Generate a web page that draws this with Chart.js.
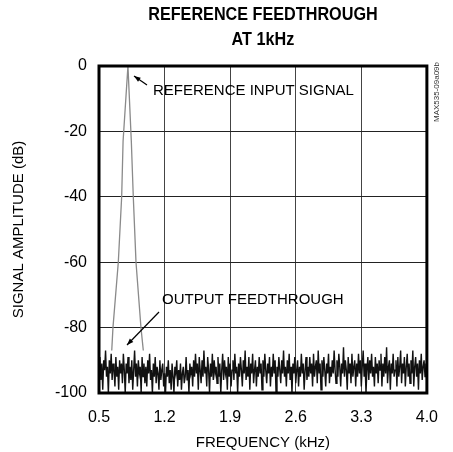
<!DOCTYPE html>
<html>
<head>
<meta charset="utf-8">
<script src="https://cdn.jsdelivr.net/npm/chart.js@4/dist/chart.umd.min.js"></script>
<style>
  html, body { margin: 0; padding: 0; background: #fff; }
  #wrap { width: 453px; height: 452px; }
</style>
</head>
<body>
<div id="wrap"><canvas id="chart" width="453" height="452"></canvas></div>
<script>
// x axis
const freqTicks = [0.5, 1.2, 1.9, 2.6, 3.3, 4.0];
const ampTicks = [0, -20, -40, -60, -80, -100];

// noise floor, sampled every 0.01 kHz from 0.5 kHz
const noiseStart = 0.5;
const noiseStep = 0.01;
const noiseAmp = [
  -94,-89,-96,-91,-99,-90,-93,-87,-95,-92,-100,-90,-94,-88,-96,-91,-93,-98,-89,-95,-92,-99,-90,-94,-91,
  -97,-88,-93,-100,-91,-94,-89,-97,-92,-96,-90,-99,-93,-87,-95,-91,-98,-90,-94,-92,-100,-89,-95,-91,-97,
  -92,-98,-90,-94,-88,-96,-93,-100,-91,-95,-89,-97,-92,-94,-99,-90,-96,-93,-91,-98,-94,-100,-92,-95,-90,
  -97,-93,-99,-91,-95,-100,-92,-94,-90,-98,-93,-96,-91,-99,-94,-92,-97,-95,-89,-96,-93,-100,-91,-94,-92,
  -98,-90,-95,-88,-94,-91,-99,-89,-93,-97,-90,-95,-87,-94,-92,-98,-89,-93,-100,-91,-95,-88,-96,-90,-94,
  -92,-97,-89,-95,-91,-100,-93,-88,-96,-90,-94,-92,-99,-89,-95,-91,-98,-93,-90,-96,-88,-94,-92,-100,-91,
  -95,-89,-93,-98,-90,-94,-87,-96,-92,-95,-89,-99,-91,-94,-88,-97,-93,-90,-98,-92,-95,-89,-94,-91,-99,
  -90,-95,-88,-93,-97,-91,-94,-89,-98,-92,-95,-88,-94,-90,-100,-92,-95,-89,-93,-97,-90,-94,-87,-95,-92,
  -98,-90,-94,-88,-96,-92,-100,-91,-94,-89,-97,-93,-90,-98,-92,-95,-88,-94,-91,-99,-93,-89,-96,-92,-95,
  -89,-94,-91,-98,-88,-95,-92,-90,-97,-87,-94,-91,-99,-90,-95,-89,-93,-98,-91,-94,-88,-97,-92,-95,-90,
  -94,-87,-93,-97,-90,-95,-88,-92,-98,-91,-94,-86,-95,-90,-93,-99,-89,-94,-91,-97,-88,-95,-92,-90,-98,
  -91,-95,-88,-94,-90,-98,-92,-87,-95,-91,-100,-93,-89,-96,-90,-94,-88,-95,-92,-98,-89,-94,-91,-97,-90,
  -93,-88,-98,-91,-95,-89,-94,-86,-97,-92,-90,-99,-91,-94,-88,-95,-93,-90,-98,-89,-95,-92,-87,-97,-91,
  -94,-89,-98,-92,-88,-95,-91,-97,-90,-94,-87,-98,-92,-89,-95,-91,-99,-90,-94,-88,-96,-92,-90,-95,-91,
  -93
];

// reference tone
const peakFreq = [0.636, 0.649, 0.706, 0.742, 0.757, 0.809, 0.845, 0.866, 0.895, 0.948, 0.973];
const peakAmp = [-87, -80, -60, -40, -23, 0, -23, -40, -60, -80, -87];

const noisePts = noiseAmp.map((v, i) => ({ x: noiseStart + i * noiseStep, y: v }));
const peakPts = peakFreq.map((f, i) => ({ x: f, y: peakAmp[i] }));

const FONT = "'Liberation Sans', Arial, sans-serif";

const extras = {
  id: 'extras',
  afterDraw(c) {
    const ctx = c.ctx;
    const a = c.chartArea;
    ctx.save();
    // frame
    ctx.strokeStyle = '#000';
    ctx.lineWidth = 3;
    ctx.strokeRect(a.left, a.top, a.right - a.left, a.bottom - a.top);

    // title, condensed
    ctx.fillStyle = '#000';
    ctx.textAlign = 'center';
    ctx.textBaseline = 'middle';
    ctx.font = "bold 18px 'Liberation Sans', sans-serif";
    const cx = (a.left + a.right) / 2;
    ctx.save();
    ctx.translate(cx, 0);
    ctx.scale(0.9, 1);
    ctx.fillText('REFERENCE FEEDTHROUGH', 0, 15);
    ctx.fillText('AT 1kHz', 0, 40);
    ctx.restore();

    // annotations
    ctx.font = '15px ' + FONT;
    ctx.textAlign = 'left';
    ctx.fillText('REFERENCE INPUT SIGNAL', 153, 91);
    ctx.fillText('OUTPUT FEEDTHROUGH', 162, 300);

    const arrow = (x1, y1, x2, y2) => {
      ctx.beginPath();
      ctx.lineWidth = 1.2;
      ctx.moveTo(x1, y1);
      ctx.lineTo(x2, y2);
      ctx.stroke();
      const ang = Math.atan2(y2 - y1, x2 - x1);
      ctx.beginPath();
      ctx.moveTo(x2, y2);
      ctx.lineTo(x2 - 7 * Math.cos(ang - 0.35), y2 - 7 * Math.sin(ang - 0.35));
      ctx.lineTo(x2 - 7 * Math.cos(ang + 0.35), y2 - 7 * Math.sin(ang + 0.35));
      ctx.closePath();
      ctx.fill();
    };
    arrow(147, 85, 134, 76);
    arrow(159, 312, 127, 345);

    // figure code
    ctx.save();
    ctx.translate(437, 92);
    ctx.rotate(-Math.PI / 2);
    ctx.textAlign = 'center';
    ctx.font = '8px ' + FONT;
    ctx.fillStyle = '#333';
    ctx.fillText('MAX535-09a09b', 0, 0);
    ctx.restore();
    ctx.restore();
  }
};

new Chart(document.getElementById('chart').getContext('2d'), {
  type: 'line',
  data: {
    datasets: [
      {
        label: 'Noise',
        data: noisePts,
        borderColor: '#111',
        borderWidth: 1.4,
        pointRadius: 0,
        tension: 0
      },
      {
        label: 'Reference',
        data: peakPts,
        borderColor: '#8a8a8a',
        borderWidth: 1.3,
        pointRadius: 0,
        tension: 0
      }
    ]
  },
  options: {
    responsive: false,
    animation: false,
    events: [],
    layout: { padding: { top: 66, right: 26, bottom: 0, left: 0 } },
    plugins: { legend: { display: false }, tooltip: { enabled: false } },
    scales: {
      x: {
        type: 'linear',
        min: 0.5,
        max: 4.0,
        afterBuildTicks: s => { s.ticks = freqTicks.map(v => ({ value: v })); },
        afterFit: s => { s.height = 59; },
        grid: { color: '#444', lineWidth: 1, drawTicks: false },
        border: { display: false },
        ticks: {
          color: '#000',
          font: { family: FONT, size: 16 },
          padding: 15,
          maxRotation: 0,
          callback: v => v.toFixed(1)
        },
        title: {
          display: true,
          text: 'FREQUENCY (kHz)',
          color: '#000',
          font: { family: FONT, size: 15 },
          padding: { top: 2, bottom: 0 }
        }
      },
      y: {
        min: -100,
        max: 0,
        afterBuildTicks: s => { s.ticks = ampTicks.map(v => ({ value: v })); },
        afterFit: s => { s.width = 99; },
        grid: { color: '#222', lineWidth: 1, drawTicks: false },
        border: { display: false },
        ticks: {
          color: '#000',
          font: { family: FONT, size: 16 },
          padding: 12
        },
        title: {
          display: true,
          text: 'SIGNAL AMPLITUDE (dB)',
          color: '#000',
          font: { family: FONT, size: 15 },
          padding: { top: 10, bottom: 20 }
        }
      }
    }
  },
  plugins: [extras]
});
</script>
</body>
</html>
